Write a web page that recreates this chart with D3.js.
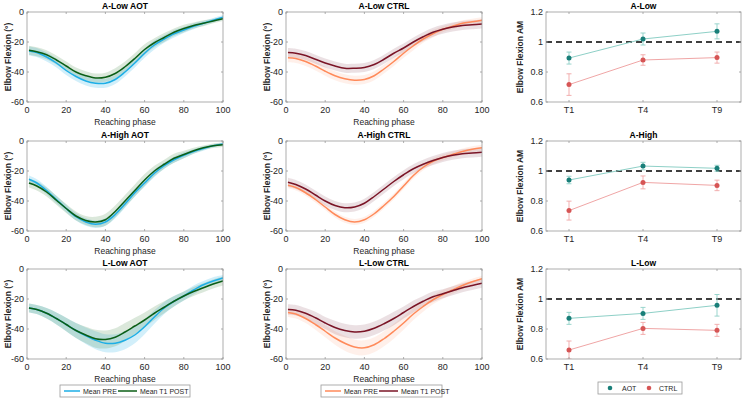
<!DOCTYPE html>
<html><head><meta charset="utf-8">
<script src="https://cdn.jsdelivr.net/npm/d3@7/dist/d3.min.js"></script>
<style>body{margin:0;background:#fff}svg{display:block;font-family:"Liberation Sans",Arial,sans-serif}</style>
</head><body><svg id="c" width="745" height="400"></svg>
<script>
// ---------- DATA ----------
const phase = [1,5,10,15,20,25,30,35,40,45,50,55,60,65,70,75,80,85,90,95,100];

const aLowAotPre   = [-26,-27,-30,-34,-39,-43,-46,-47.5,-47.5,-45,-40,-34,-27.5,-22,-18,-14.5,-12,-9.5,-7.5,-5.5,-3.5];
const aLowAotPost  = [-25.5,-26.5,-28.5,-32,-36,-40,-42.5,-44,-43.5,-41,-36.5,-31,-25,-20.5,-17,-13.5,-11,-9,-7.5,-6,-4.5];
const aLowCtrlPre  = [-30.5,-31,-33,-36,-39.5,-42.5,-44.5,-45.5,-45,-42.5,-38,-33,-27.5,-22.5,-18,-14.5,-11.5,-9.5,-7.5,-6.5,-5.5];
const aLowCtrlPost = [-27,-27.5,-29,-31.5,-34,-36,-37.5,-37.5,-37,-35,-31.5,-27.5,-24,-20,-16.5,-13.5,-11.5,-10,-9,-8.5,-8];
const aHighAotPre  = [-25.5,-28,-33,-39,-45,-50.5,-54,-55.5,-54,-49,-42,-34.5,-28,-21.5,-16.5,-12.5,-9.5,-7,-5,-3.2,-2];
const aHighAotPost = [-28,-30,-34,-39.5,-45,-50,-53,-54,-52.5,-47,-40,-33,-26,-20,-15.5,-11.5,-9,-6.5,-4.5,-3.2,-2.5];
const aHighCtrlPre = [-29.5,-31,-34.5,-39,-44,-49,-52.5,-54,-52.5,-48.5,-43,-37,-30,-23,-17.5,-13.5,-11,-9,-7,-5.5,-4.5];
const aHighCtrlPost= [-27.5,-29,-32,-36,-40,-43,-44.5,-44,-41.5,-37,-32,-27,-22.5,-18.5,-15.5,-13,-11,-9.5,-8.5,-8,-7.5];
const lLowAotPre   = [-26,-27,-29.5,-33,-37,-41,-44.5,-47.5,-49.5,-49.5,-47.5,-44,-38.5,-32,-26,-21.5,-18,-14,-10.5,-8,-6];
const lLowAotPost  = [-26,-27,-29.5,-33,-37,-41,-44,-46.5,-47,-45.5,-42,-38,-34,-29.5,-25.5,-21.5,-18,-15,-12.5,-10,-8];
const lLowCtrlPre  = [-29,-30,-33,-37,-41.5,-46,-49.5,-52,-52.5,-50.5,-46.5,-41.5,-36,-30,-25,-20.5,-17,-14,-11,-8.5,-6.5];
const lLowCtrlPost = [-27,-27.5,-29.5,-32.5,-36,-39,-41,-42,-41.5,-39.5,-36.5,-33,-29,-25,-21.5,-18.5,-16.5,-14.5,-12.5,-11,-9.5];

// band half-widths (SD)
const aLowAotPreSd   = [3,3,3,3,3,3,3,3,3,3,3,3,3,3,2.5,2.5,2,2,1.5,1.5,1.5];
const aLowAotPostSd  = [3,3,3,3,3,3,3,3,3,3.5,3.5,3.5,3.5,3,3,2.5,2.5,2,2,1.5,1.5];
const aLowCtrlPreSd  = [3,3,3,3,3,3,3,3,3,3,3,3,3,3,2.5,2.5,2,2,2,2,2];
const aLowCtrlPostSd = [3,3,3,3,3,3,3,3,3,3,3,3,3,3,3,3,3,3,3,3,3];
const aHighAotPreSd  = [2.5,2.5,2.5,2.5,2.5,2.5,2.5,2.5,2.5,2.5,2.5,2.5,2.5,2.5,2,2,2,1.5,1.5,1,1];
const aHighAotPostSd = [3,3,3,3,3,3,3,3.5,4,4,4,4,4,3.5,3,3,2.5,2,1.5,1.5,1.5];
const aHighCtrlPreSd = [2,2,2,2,2,2,2,2,2,2,2,2,2,2,2,2,2,2,2,2,2];
const aHighCtrlPostSd= [3,3,3,3,3,3,3,3,3,3,3,3,3,3,3,3,3,3,3,3,3];
const lLowAotPreSd   = [3,3,3.5,4,4.5,5,5.5,6,6,6,6,5.5,5,4.5,4,3.5,3,3,2.5,2.5,2];
const lLowAotPostSd  = [3,3,3.5,4,4.5,5,5.5,6,6,6,6,5.5,5,4.5,4,3.5,3,3,3,3,3];
const lLowCtrlPreSd  = [3,3,3,3.5,4,4.5,5,5,5,5,5,5,4.5,4,3.5,3,3,2.5,2.5,2,2];
const lLowCtrlPostSd = [3.5,3.5,3.5,4,4,4.5,4.5,4.5,4.5,4.5,4.5,4.5,4,4,3.5,3.5,3,3,3,3,3];

const curveTitles = ["A-Low AOT","A-Low CTRL","A-High AOT","A-High CTRL","L-Low AOT","L-Low CTRL"];
const xTicks = [0,20,40,60,80,100];
const yTicks = [0,-20,-40,-60];

const sessions = ["T1","T4","T9"];
const amTitles = ["A-Low","A-High","L-Low"];
const aotAM    = [[0.893,1.020,1.071],[0.940,1.033,1.018],[0.871,0.904,0.958]];
const aotAMErr = [[0.040,0.040,0.050],[0.025,0.025,0.020],[0.040,0.040,0.072]];
const ctrlAM    = [[0.716,0.880,0.896],[0.736,0.924,0.904],[0.660,0.804,0.791]];
const ctrlAMErr = [[0.072,0.035,0.037],[0.063,0.043,0.035],[0.060,0.040,0.040]];
const amTicks = [0.6,0.8,1,1.2];

// ---------- DRAW ----------
const svg = d3.select("#c");
const rowTops = [12,141,269], H = 90;
const colLefts = [27,286,546], colW = [196,196,195];
const axisCol = "#9a9a9a", textCol = "#262626";

const C = {
  aotPre:"#1daee6", aotPost:"#0b5e16", aotPreBand:"#1daee6", aotPostBand:"#4d8a4d",
  ctrlPre:"#ff8a5a", ctrlPost:"#7a1426", ctrlPreBand:"#ff9a70", ctrlPostBand:"#8a4a5a",
  aotDot:"#197f79", aotLine:"#8ed0c7", ctrlDot:"#d65555", ctrlLine:"#f0a6a6"
};

const curveSets = [
  [aLowAotPre,aLowAotPost,aLowAotPreSd,aLowAotPostSd,"aot"],
  [aLowCtrlPre,aLowCtrlPost,aLowCtrlPreSd,aLowCtrlPostSd,"ctrl"],
  [aHighAotPre,aHighAotPost,aHighAotPreSd,aHighAotPostSd,"aot"],
  [aHighCtrlPre,aHighCtrlPost,aHighCtrlPreSd,aHighCtrlPostSd,"ctrl"],
  [lLowAotPre,lLowAotPost,lLowAotPreSd,lLowAotPostSd,"aot"],
  [lLowCtrlPre,lLowCtrlPost,lLowCtrlPreSd,lLowCtrlPostSd,"ctrl"]
];

function frame(g, x, y, xt, yt, xfmt, yfmt){
  const [x0,x1] = x.range(), [y0,y1] = y.range();
  g.append("rect").attr("x",x0).attr("y",y1).attr("width",x1-x0).attr("height",y0-y1)
    .attr("fill","none").attr("stroke",axisCol).attr("stroke-width",0.8);
  xt.forEach(v=>{
    const px = x(v);
    g.append("line").attr("x1",px).attr("x2",px).attr("y1",y0).attr("y2",y0-2).attr("stroke",axisCol).attr("stroke-width",0.8);
    g.append("line").attr("x1",px).attr("x2",px).attr("y1",y1).attr("y2",y1+2).attr("stroke",axisCol).attr("stroke-width",0.8);
    g.append("text").attr("x",px).attr("y",y0+11).attr("text-anchor","middle").attr("font-size",9).attr("fill",textCol).text(xfmt(v));
  });
  yt.forEach(v=>{
    const py = y(v);
    g.append("line").attr("x1",x0).attr("x2",x0+2).attr("y1",py).attr("y2",py).attr("stroke",axisCol).attr("stroke-width",0.8);
    g.append("line").attr("x1",x1).attr("x2",x1-2).attr("y1",py).attr("y2",py).attr("stroke",axisCol).attr("stroke-width",0.8);
    g.append("text").attr("x",x0-3).attr("y",py+3).attr("text-anchor","end").attr("font-size",9).attr("fill",textCol).text(yfmt(v));
  });
}

curveSets.forEach((s,i)=>{
  const r = Math.floor(i/2), c = i%2;
  const left = colLefts[c], top = rowTops[r], w = colW[c];
  const x = d3.scaleLinear().domain([0,100]).range([left,left+w]);
  const y = d3.scaleLinear().domain([-60,0]).range([top+H,top]);
  const g = svg.append("g");
  const [pre,post,preSd,postSd,kind] = s;
  const clipId = "clip"+i;
  svg.append("clipPath").attr("id",clipId).append("rect").attr("x",left).attr("y",top).attr("width",w).attr("height",H);
  const gp = g.append("g").attr("clip-path",`url(#${clipId})`);
  const band = d3.area().x((d,j)=>x(phase[j])).y0(d=>y(d[0]-d[1])).y1(d=>y(d[0]+d[1])).curve(d3.curveCatmullRom);
  const line = d3.line().x((d,j)=>x(phase[j])).y(d=>y(d)).curve(d3.curveCatmullRom);
  const preC = kind==="aot"?C.aotPre:C.ctrlPre, postC = kind==="aot"?C.aotPost:C.ctrlPost;
  const preB = kind==="aot"?C.aotPreBand:C.ctrlPreBand, postB = kind==="aot"?C.aotPostBand:C.ctrlPostBand;
  gp.append("path").attr("d",band(pre.map((v,j)=>[v,preSd[j]]))).attr("fill",preB).attr("opacity",kind==="aot"?0.2:0.15);
  gp.append("path").attr("d",band(post.map((v,j)=>[v,postSd[j]]))).attr("fill",postB).attr("opacity",kind==="aot"?0.2:0.17);
  gp.append("path").attr("d",line(pre)).attr("fill","none").attr("stroke",preC).attr("stroke-width",1.5);
  gp.append("path").attr("d",line(post)).attr("fill","none").attr("stroke",postC).attr("stroke-width",1.5);
  frame(g,x,y,xTicks,yTicks,d=>d,d=>d);
  g.append("text").attr("x",left+w/2).attr("y",top-3).attr("text-anchor","middle").attr("font-size",8.5).attr("font-weight","bold").attr("fill","#000").text(curveTitles[i]);
  g.append("text").attr("x",left+w/2).attr("y",top+H+23).attr("text-anchor","middle").attr("font-size",8.5).attr("fill",textCol).text("Reaching phase");
  g.append("text").attr("transform",`translate(${left-16},${top+H/2}) rotate(-90)`).attr("text-anchor","middle").attr("font-size",8.5).attr("font-weight","bold").attr("fill",textCol).text("Elbow Flexion (°)");
});

// legends for curve panels
function curveLegend(x0,y0,w,preC,postC){
  const g = svg.append("g");
  g.append("rect").attr("x",x0).attr("y",y0).attr("width",w).attr("height",12).attr("fill","#fff").attr("stroke","#9a9a9a").attr("stroke-width",0.8);
  g.append("line").attr("x1",x0+4).attr("x2",x0+20).attr("y1",y0+6).attr("y2",y0+6).attr("stroke",preC).attr("stroke-width",1.5);
  g.append("text").attr("x",x0+23).attr("y",y0+8.5).attr("font-size",7).attr("fill",textCol).text("Mean PRE");
  g.append("line").attr("x1",x0+58).attr("x2",x0+77).attr("y1",y0+6).attr("y2",y0+6).attr("stroke",postC).attr("stroke-width",1.5);
  g.append("text").attr("x",x0+80).attr("y",y0+8.5).attr("font-size",7).attr("fill",textCol).text("Mean T1 POST");
}
curveLegend(60,385,130,C.aotPre,C.aotPost);
curveLegend(321,385,121,C.ctrlPre,C.ctrlPost);

// AM panels
amTitles.forEach((t,r)=>{
  const left = colLefts[2], top = rowTops[r], w = colW[2];
  const x = d3.scalePoint().domain(sessions).range([left+23,left+w-24]);
  const y = d3.scaleLinear().domain([0.6,1.2]).range([top+H,top]);
  const g = svg.append("g");
  const clipId = "amclip"+r;
  svg.append("clipPath").attr("id",clipId).append("rect").attr("x",left).attr("y",top).attr("width",w).attr("height",H);
  const gp = g.append("g").attr("clip-path",`url(#${clipId})`);
  gp.append("line").attr("x1",left).attr("x2",left+w).attr("y1",y(1)).attr("y2",y(1)).attr("stroke","#000").attr("stroke-width",1.5).attr("stroke-dasharray","6,4");
  [[aotAM[r],aotAMErr[r],C.aotDot,C.aotLine],[ctrlAM[r],ctrlAMErr[r],C.ctrlDot,C.ctrlLine]].forEach(([vals,errs,dc,lc])=>{
    const line = d3.line().x((d,j)=>x(sessions[j])).y(d=>y(d));
    gp.append("path").attr("d",line(vals)).attr("fill","none").attr("stroke",lc).attr("stroke-width",1);
    vals.forEach((v,j)=>{
      const px = x(sessions[j]);
      gp.append("line").attr("x1",px).attr("x2",px).attr("y1",y(v-errs[j])).attr("y2",y(v+errs[j])).attr("stroke",lc).attr("stroke-width",0.9);
      [v-errs[j],v+errs[j]].forEach(e=>gp.append("line").attr("x1",px-2.5).attr("x2",px+2.5).attr("y1",y(e)).attr("y2",y(e)).attr("stroke",lc).attr("stroke-width",0.9));
      gp.append("circle").attr("cx",px).attr("cy",y(v)).attr("r",2.5).attr("fill",dc);
    });
  });
  const xl = d3.scaleLinear().domain([0,1]).range([left,left+w]);
  // frame
  g.append("rect").attr("x",left).attr("y",top).attr("width",w).attr("height",H).attr("fill","none").attr("stroke",axisCol).attr("stroke-width",0.8);
  sessions.forEach(s=>{
    const px = x(s);
    g.append("line").attr("x1",px).attr("x2",px).attr("y1",top+H).attr("y2",top+H-2).attr("stroke",axisCol).attr("stroke-width",0.8);
    g.append("line").attr("x1",px).attr("x2",px).attr("y1",top).attr("y2",top+2).attr("stroke",axisCol).attr("stroke-width",0.8);
    g.append("text").attr("x",px).attr("y",top+H+11).attr("text-anchor","middle").attr("font-size",9).attr("fill",textCol).text(s);
  });
  amTicks.forEach(v=>{
    const py = y(v);
    g.append("line").attr("x1",left).attr("x2",left+2).attr("y1",py).attr("y2",py).attr("stroke",axisCol).attr("stroke-width",0.8);
    g.append("line").attr("x1",left+w).attr("x2",left+w-2).attr("y1",py).attr("y2",py).attr("stroke",axisCol).attr("stroke-width",0.8);
    g.append("text").attr("x",left-3).attr("y",py+3).attr("text-anchor","end").attr("font-size",9).attr("fill",textCol).text(d3.format("~g")(v));
  });
  g.append("text").attr("x",left+w/2).attr("y",top-3).attr("text-anchor","middle").attr("font-size",8.5).attr("font-weight","bold").attr("fill","#000").text(t);
  g.append("text").attr("transform",`translate(${left-23},${top+H/2}) rotate(-90)`).attr("text-anchor","middle").attr("font-size",8.5).attr("font-weight","bold").attr("fill",textCol).text("Elbow Flexion AM");
});

// AM legend
(function(){
  const x0=598,y0=382,w=84;
  const g = svg.append("g");
  g.append("rect").attr("x",x0).attr("y",y0).attr("width",w).attr("height",12).attr("fill","#fff").attr("stroke","#9a9a9a").attr("stroke-width",0.8);
  g.append("circle").attr("cx",x0+12).attr("cy",y0+6).attr("r",2.3).attr("fill",C.aotDot);
  g.append("text").attr("x",x0+24).attr("y",y0+8.5).attr("font-size",7).attr("fill",textCol).text("AOT");
  g.append("circle").attr("cx",x0+51).attr("cy",y0+6).attr("r",2.3).attr("fill",C.ctrlDot);
  g.append("text").attr("x",x0+61).attr("y",y0+8.5).attr("font-size",7).attr("fill",textCol).text("CTRL");
})();
</script></body></html>
